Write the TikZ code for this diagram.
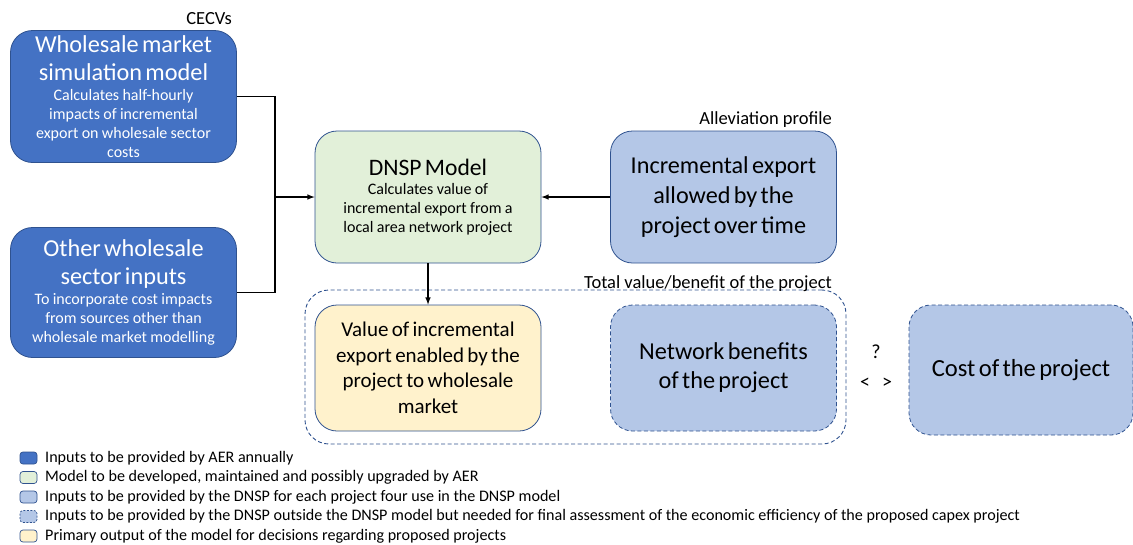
\documentclass[tikz,border=0pt]{standalone}
\usepackage{fontspec}
\setmainfont{Carlito}

\definecolor{aerblue}{HTML}{4472C4}
\definecolor{edgeblue}{HTML}{2F528F}
\definecolor{paleblue}{HTML}{B4C7E7}
\definecolor{palegreen}{HTML}{E2F0D9}
\definecolor{paleyellow}{HTML}{FFF2CC}

\newcommand{\boxtitle}{\fontsize{24.3}{28}\selectfont}
\newcommand{\boxnote}{\fontsize{16}{19}\selectfont}
\newcommand{\boxtext}{\fontsize{24.2}{30}\selectfont}

\begin{document}
\begin{tikzpicture}[x=1pt, y=-1pt,
    box/.style={draw=edgeblue, line width=0.8pt, rounded corners=22pt,
        align=center, text width=220pt, inner sep=2pt, minimum width=226pt},
    aerbox/.style={box, fill=aerblue, text=white},
    modelbox/.style={box, fill=palegreen},
    dnspbox/.style={box, fill=paleblue},
    extbox/.style={dnspbox, dash pattern=on 4pt off 2.5pt},
    outbox/.style={box, fill=paleyellow},
    link/.style={line width=1.5pt},
    label/.style={font=\fontsize{18.5}{20}\selectfont, inner sep=0pt},
    legkey/.style={draw=edgeblue, line width=0.7pt, rounded corners=3pt},
    legtext/.style={anchor=west, font=\fontsize{16.1}{18}\selectfont, inner sep=0pt}]
    \useasboundingbox (0,0) rectangle (1133,544);

    % Inputs from the AER
    \node[aerbox, minimum height=132pt] (whsim) at (123.5,96.5)
        {\boxtitle Wholesale market\\ simulation model\par\vspace{1pt}
         \boxnote Calculates half-hourly\\ impacts of incremental\\
         export on wholesale sector\\ costs\par};
    \node[aerbox, minimum height=130pt] (otherin) at (123.5,292.5)
        {\boxtitle Other wholesale\\ sector inputs\par\vspace{1pt}
         \boxnote To incorporate cost impacts\\ from sources other than\\
         wholesale market modelling\par};
    \node[label, anchor=base east] at (232,24) {CECVs};

    % The model and its project input
    \node[modelbox, minimum height=132pt] (dnsp) at (428,197)
        {\fontsize{23.6}{28}\selectfont DNSP Model\par
         \boxnote Calculates value of\\ incremental export from a\\
         local area network project\par};
    \node[dnspbox, minimum height=132pt] (incexp) at (723.5,197)
        {\boxtext Incremental export\\ allowed by the\\ project over time\par};
    \node[label, anchor=base east] at (832,124) {Alleviation profile};

    % Total value of the project
    \node[draw=edgeblue, line width=0.9pt, dash pattern=on 4pt off 2.5pt,
        rounded corners=24pt, minimum width=541pt, minimum height=154pt]
        (total) at (575.5,367) {};
    \node[label, anchor=base east] at (832,288)
        {Total value/benefit of the project};
    \node[outbox, minimum height=126pt] (valout) at (428,368)
        {\fontsize{21}{25.5}\selectfont Value of incremental\\ export enabled by the\\
         project to wholesale\\ market\par};
    \node[extbox, minimum height=126pt] (netben) at (723.5,368)
        {\fontsize{24.3}{29}\selectfont Network benefits\\ of the project\par};

    % Comparison with the cost
    \node[font=\fontsize{20}{22}\selectfont] (qmark) at (876,352) {?};
    \node[font=\fontsize{20}{22}\selectfont] (cmp) at (876,383) {<\hspace{12pt}>};
    \node[extbox, minimum width=222pt, minimum height=130pt] (cost) at (1021,370)
        {\fontsize{24.6}{28}\selectfont Cost of the project\par};

    % Connectors
    \coordinate (junc) at (275,197);
    \draw[link] (whsim.east) -| (junc);
    \draw[link] (otherin.east) -| (junc);
    \draw[link, -latex] (junc) -- (dnsp.west);
    \draw[link, -latex] (incexp.west) -- (dnsp.east);
    \draw[link, -latex] (dnsp.south) -- (valout.north);

    % Legend
    \draw[legkey, fill=aerblue] (20,452) rectangle (37,464);
    \node[legtext] at (45,458) {Inputs to be provided by AER annually};
    \draw[legkey, fill=palegreen] (20,471.5) rectangle (37,483.5);
    \node[legtext] at (45,477.5) {Model to be developed, maintained and possibly upgraded by AER};
    \draw[legkey, fill=paleblue] (20,491) rectangle (37,503);
    \node[legtext] at (45,497) {Inputs to be provided by the DNSP for each project four use in the DNSP model};
    \draw[legkey, fill=paleblue, dash pattern=on 2pt off 1.5pt] (20,510.5) rectangle (37,522.5);
    \node[legtext] at (45,516.5) {Inputs to be provided by the DNSP outside the DNSP model but needed for final assessment of the economic efficiency of the proposed capex project};
    \draw[legkey, fill=paleyellow] (20,530) rectangle (37,542);
    \node[legtext] at (45,536) {Primary output of the model for decisions regarding proposed projects};
\end{tikzpicture}
\end{document}
